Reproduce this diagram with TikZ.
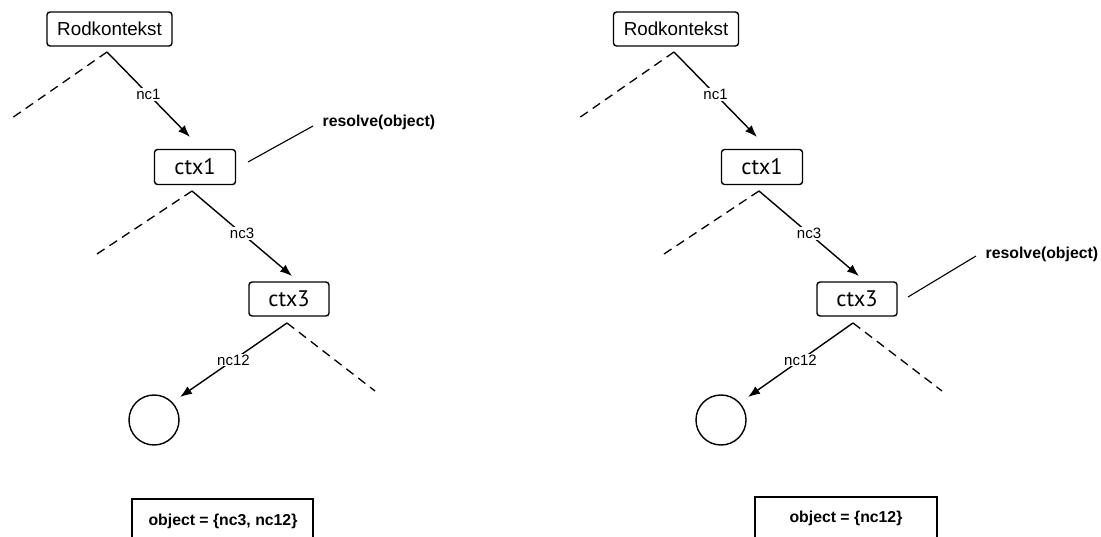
\documentclass[tikz,border=0pt]{standalone}
\usepackage{fontspec}
\setmainfont{Liberation Sans}
\newfontfamily\ctxfont{PT Sans}
\usetikzlibrary{arrows.meta}
\begin{document}
\begin{tikzpicture}[x=1pt,y=-1pt,line width=1.4pt,
  ctxbox/.style={draw,rounded corners=3pt,inner sep=0pt,font=\ctxfont\fontsize{22.5}{22.5}\selectfont},
  rootbox/.style={draw,rounded corners=3pt,inner sep=0pt,font=\fontsize{18.8}{18.8}\selectfont},
  edgelabel/.style={fill=white,inner sep=1pt,font=\fontsize{15}{15}\selectfont},
  boldnote/.style={inner sep=0pt,font=\bfseries\fontsize{15.8}{15.8}\selectfont},
  objnode/.style={circle,draw,minimum size=50pt,inner sep=0pt},
  arrowedge/.style={-{Latex[length=12pt,width=9pt]},line width=1.4pt},
  otherbranch/.style={dash pattern=on 9pt off 6pt,line width=1.3pt},
  noteline/.style={line width=1.1pt}]
\useasboundingbox (0,0) rectangle (1101,537);
\clip (0,0) rectangle (1101,537);

% ---------- left tree ----------
\node[rootbox,minimum width=125pt,minimum height=34pt] (rootL) at (109.5,29) {Rodkontekst};
\node[ctxbox,minimum width=81pt,minimum height=35pt] (ctx1L) at (195,167) {ctx1};
\node[ctxbox,minimum width=80pt,minimum height=34pt] (ctx3L) at (289,299) {ctx3};
\node[objnode] (objL) at (154,420) {};

\coordinate (apexL1) at (107,52);
\coordinate (dashL1) at (12,118);
\coordinate (tipL1) at (190,137);
\coordinate (apexL2) at (192,191);
\coordinate (dashL2) at (97,254);
\coordinate (tipL2) at (292,276);
\coordinate (apexL3) at (287,323);
\coordinate (dashL3) at (375,391);
\coordinate (tipL3) at (180,397);

\draw[otherbranch] (apexL1) -- (dashL1);
\draw[arrowedge] (apexL1) -- node[edgelabel] {nc1} (tipL1);
\draw[otherbranch] (apexL2) -- (dashL2);
\draw[arrowedge] (apexL2) -- node[edgelabel] {nc3} (tipL2);
\draw[otherbranch] (apexL3) -- (dashL3);
\draw[arrowedge] (apexL3) -- node[edgelabel] {nc12} (tipL3);

\node[boldnote,anchor=west] (resL) at (322,122) {resolve(object)};
\coordinate (resLa) at (248,162);
\coordinate (resLb) at (313,126);
\draw[noteline] (resLa) -- (resLb);

\draw[line width=1.4pt] (132,560) -- (132,499) -- (313,499) -- (313,560);
\node[boldnote] (setL) at (223,521) {object = \{nc3, nc12\}};

% ---------- right tree ----------
\node[rootbox,minimum width=125pt,minimum height=34pt] (rootR) at (676,29) {Rodkontekst};
\node[ctxbox,minimum width=81pt,minimum height=35pt] (ctx1R) at (762,167) {ctx1};
\node[ctxbox,minimum width=80pt,minimum height=34pt] (ctx3R) at (857,299) {ctx3};
\node[objnode] (objR) at (721,420) {};

\coordinate (apexR1) at (674,52);
\coordinate (dashR1) at (579,118);
\coordinate (tipR1) at (757,137);
\coordinate (apexR2) at (759,191);
\coordinate (dashR2) at (664,254);
\coordinate (tipR2) at (859,276);
\coordinate (apexR3) at (853,323);
\coordinate (dashR3) at (942,391);
\coordinate (tipR3) at (748,397);

\draw[otherbranch] (apexR1) -- (dashR1);
\draw[arrowedge] (apexR1) -- node[edgelabel] {nc1} (tipR1);
\draw[otherbranch] (apexR2) -- (dashR2);
\draw[arrowedge] (apexR2) -- node[edgelabel] {nc3} (tipR2);
\draw[otherbranch] (apexR3) -- (dashR3);
\draw[arrowedge] (apexR3) -- node[edgelabel] {nc12} (tipR3);

\node[boldnote,anchor=west] (resR) at (985,254) {resolve(object)};
\coordinate (resRa) at (908,297);
\coordinate (resRb) at (976,256);
\draw[noteline] (resRa) -- (resRb);

\draw[line width=1.4pt] (755,560) -- (755,497) -- (937,497) -- (937,560);
\node[boldnote] (setR) at (846,518) {object = \{nc12\}};
\end{tikzpicture}
\end{document}
